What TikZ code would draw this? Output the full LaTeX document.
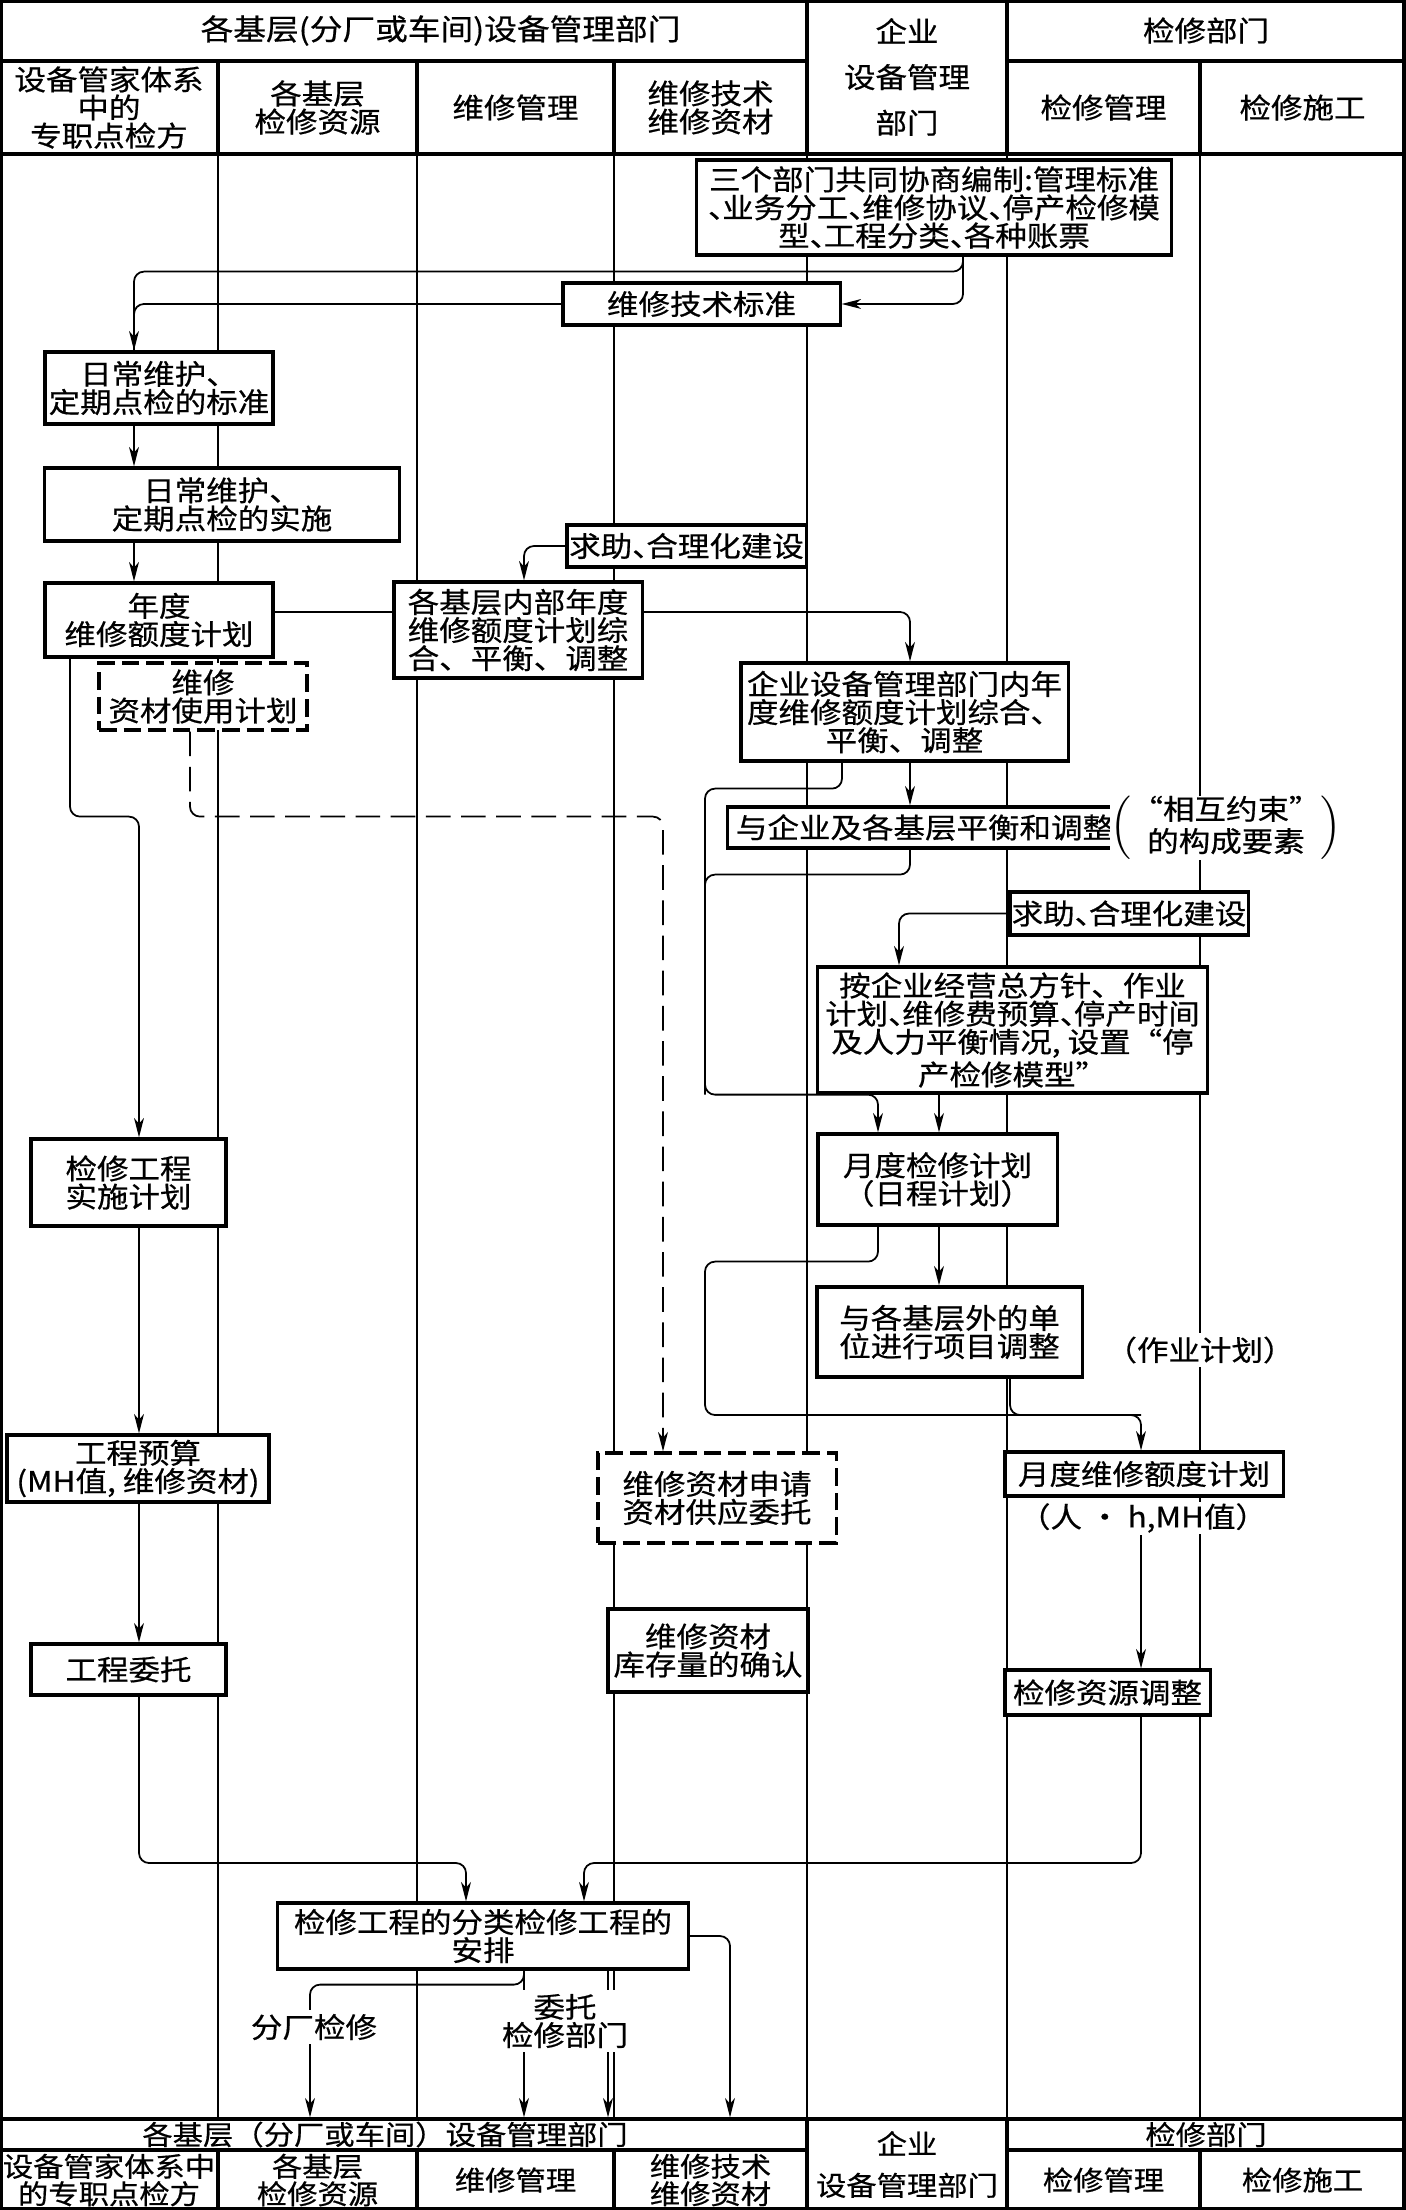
\documentclass[tikz,border=0pt]{standalone}
\usepackage{fontspec}
\setmainfont{Noto Sans CJK SC}[FakeStretch=1.12, FakeBold=0.6]
\usepackage{tikz}
\usetikzlibrary{arrows.meta}
\newcommand\dun{\makebox[.5em][l]{、}}

\begin{document}
\begin{tikzpicture}[x=0.01cm, y=-0.01cm, >={Stealth[length=5.5pt, width=2.8pt, inset=1.6pt]},
  font=\fontsize{8pt}{8pt}\selectfont,
  cell/.style={draw, line width=0.9pt, inner sep=0pt, align=center},
  footcell/.style={cell, font=\fontsize{7.7pt}{7.8pt}\selectfont},
  procbox/.style={draw, line width=0.9pt, fill=white, inner sep=0pt, align=center},
  planbox/.style={procbox, dash pattern=on 5pt off 2pt},
  lane/.style={line width=0.3pt},
  conn/.style={line width=0.5pt, rounded corners=0.1cm},
  dconn/.style={conn, dash pattern=on 7pt off 3pt},
  note/.style={fill=white, inner sep=1pt, align=center}]
  \useasboundingbox (0,0) rectangle (1405,2210);

  % swim lanes
  \foreach \x in {218,417,614,807,1007,1200}
    \draw[lane] (\x,154) -- (\x,2119);

  % header
  \node[cell, minimum width=8.07cm, minimum height=0.61cm, font=\fontsize{8.3pt}{8.3pt}\selectfont] (hdA) at (403.5,30.5) {\hspace*{.74cm}各基层(分厂或车间)设备管理部门};
  \node[cell, minimum width=2.00cm, minimum height=1.54cm] (hdB) at (907,77) {企业\\[5pt]设备管理\\[5pt]部门};
  \node[cell, minimum width=3.98cm, minimum height=0.61cm] (hdC) at (1206,30.5) {检修部门};
  \node[cell, minimum width=2.18cm, minimum height=0.93cm] (hd1) at (109,107.5) {设备管家体系\\中的\\专职点检方};
  \node[cell, minimum width=1.99cm, minimum height=0.93cm] (hd2) at (317.5,107.5) {各基层\\检修资源};
  \node[cell, minimum width=1.97cm, minimum height=0.93cm] (hd3) at (515.5,107.5) {维修管理};
  \node[cell, minimum width=1.93cm, minimum height=0.93cm] (hd4) at (710.5,107.5) {维修技术\\维修资材};
  \node[cell, minimum width=1.93cm, minimum height=0.93cm] (hd5) at (1103.5,107.5) {检修管理};
  \node[cell, minimum width=2.05cm, minimum height=0.93cm] (hd6) at (1302.5,107.5) {检修施工};

  % footer
  \node[footcell, minimum width=8.07cm, minimum height=0.31cm] (ftA) at (403.5,2134.5) {各基层（分厂或车间）设备管理部门\hspace*{.37cm}};
  \node[footcell, minimum width=2.00cm, minimum height=0.91cm] (ftB) at (907,2164.5) {企业\\[4pt]设备管理部门};
  \node[footcell, minimum width=3.98cm, minimum height=0.31cm] (ftC) at (1206,2134.5) {检修部门};
  \node[footcell, minimum width=2.18cm, minimum height=0.60cm] (ft1) at (109,2180) {设备管家体系中\\的专职点检方};
  \node[footcell, minimum width=1.99cm, minimum height=0.60cm] (ft2) at (317.5,2180) {各基层\\检修资源};
  \node[footcell, minimum width=1.97cm, minimum height=0.60cm] (ft3) at (515.5,2180) {维修管理};
  \node[footcell, minimum width=1.93cm, minimum height=0.60cm] (ft4) at (710.5,2180) {维修技术\\维修资材};
  \node[footcell, minimum width=1.93cm, minimum height=0.60cm] (ft5) at (1103.5,2180) {检修管理};
  \node[footcell, minimum width=2.05cm, minimum height=0.60cm] (ft6) at (1302.5,2180) {检修施工};

  \draw[line width=1.8pt] (0,0) rectangle (1405,2210);

  % boxes
  \node[procbox, minimum width=4.74cm, minimum height=0.95cm] (std) at (934,207.5) {三个部门共同协商编制:管理标准\\\dun 业务分工\dun 维修协议\dun 停产检修模\\型\dun 工程分类\dun 各种账票};
  \node[procbox, minimum width=2.77cm, minimum height=0.42cm] (jsbz) at (701.5,304) {维修技术标准};
  \node[procbox, minimum width=2.28cm, minimum height=0.72cm] (rcbz) at (159,388) {日常维护、\\定期点检的标准};
  \node[procbox, minimum width=3.54cm, minimum height=0.73cm] (rcss) at (222,504.5) {日常维护、\\定期点检的实施};
  \node[procbox, minimum width=2.39cm, minimum height=0.42cm] (qzA) at (686.5,546) {求助\dun 合理化建设};
  \node[procbox, minimum width=2.28cm, minimum height=0.74cm] (ndjh) at (159,620) {年度\\维修额度计划};
  \node[procbox, minimum width=2.48cm, minimum height=0.96cm] (jcnd) at (518,630) {各基层内部年度\\维修额度计划综\\合、平衡、调整};
  \node[planbox, minimum width=2.08cm, minimum height=0.67cm] (zcsy) at (203,696.5) {维修\\资材使用计划};
  \node[procbox, minimum width=3.27cm, minimum height=0.98cm] (qynd) at (904.5,712) {企业设备管理部门内年\\度维修额度计划综合、\\平衡、调整};
  \node[procbox, minimum width=3.94cm, minimum height=0.41cm] (phtz) at (925,827.5) {与企业及各基层平衡和调整};
  \node[note, inner sep=0pt] (ysys) at (1226,828) {$\left(\begin{tabular}{@{}c@{}}“相互约束”\\的构成要素\end{tabular}\right)$};
  \node[procbox, minimum width=2.38cm, minimum height=0.43cm] (qzB) at (1129,913.5) {求助\dun 合理化建设};
  \node[procbox, minimum width=3.89cm, minimum height=1.26cm] (ajh) at (1012.5,1030) {按企业经营总方针、作业\\计划\dun 维修费预算\dun 停产时间\\及人力平衡情况, 设置“停\\产检修模型”};
  \node[procbox, minimum width=2.39cm, minimum height=0.91cm] (ydjx) at (937.5,1179.5) {月度检修计划\\（日程计划）};
  \node[procbox, minimum width=2.65cm, minimum height=0.90cm] (xmtz) at (949.5,1332) {与各基层外的单\\位进行项目调整};
  \node[note] (zyjh) at (1200,1350) {（作业计划）};
  \node[procbox, minimum width=1.95cm, minimum height=0.87cm] (jxgc) at (128.5,1182.5) {检修工程\\实施计划};
  \node[procbox, minimum width=2.62cm, minimum height=0.67cm] (gcys) at (138,1468.5) {工程预算\\(MH值, 维修资材)};
  \node[procbox, minimum width=1.95cm, minimum height=0.51cm] (gcwt) at (128.5,1669.5) {工程委托};
  \node[planbox, minimum width=2.38cm, minimum height=0.90cm] (zcsq) at (717,1498) {维修资材申请\\资材供应委托};
  \node[procbox, minimum width=2.78cm, minimum height=0.44cm] (ydwx) at (1144,1474) {月度维修额度计划};
  \node[note, inner sep=0.5pt] (rhzb) at (1143,1518) {（人 · h,MH值）};
  \node[procbox, minimum width=2.00cm, minimum height=0.83cm] (kcqr) at (708,1650.5) {维修资材\\库存量的确认};
  \node[procbox, minimum width=2.05cm, minimum height=0.45cm] (zytz) at (1107.5,1692.5) {检修资源调整};
  \node[procbox, minimum width=4.10cm, minimum height=0.66cm] (fljx) at (483,1936) {检修工程的分类检修工程的\\安排};
  \coordinate (ydfork) at (1141,1415);

  % connectors
  \draw[conn,->] (std.south -| 963,0) -- ++(0,15) -| (rcbz.north -| 134,0);
  \draw[conn,->] (std.south -| 963,0) |- (jsbz.east);
  \draw[conn] (jsbz.west) -| (rcbz.north -| 134,0);
  \draw[conn,->] (rcbz.south -| 134,0) -- (rcss.north -| 134,0);
  \draw[conn,->] (rcss.south -| 134,0) -- (ndjh.north -| 134,0);
  \draw[conn,->] (qzA.west) -| (jcnd.north -| 524,0);
  \draw[conn] (ndjh.east |- 0,612) -- (jcnd.west |- 0,612);
  \draw[conn,->] (jcnd.east |- 0,612) -| (qynd.north -| 910,0);
  \draw[conn,->] (qynd.south -| 910,0) -- (phtz.north -| 910,0);
  \draw[conn,->] (qynd.south -| 842,0) -- ++(0,26) -| (ajh.south -| 705,0) -| (ydjx.north -| 878,0);
  \draw[conn] (phtz.south -| 910,0) -- ++(0,25) -| (ajh.south -| 705,0);
  \draw[conn,->] (qzB.west) -| (ajh.north -| 899,0);
  \draw[conn,->] (ajh.south -| 939,0) -- (ydjx.north -| 939,0);
  \draw[conn,->] (ydjx.south -| 939,0) -- (xmtz.north -| 939,0);
  \draw[conn,->] (ydjx.south -| 878,0) -- ++(0,35) -| (ydfork -| 705,0) -| (ydwx.north -| ydfork);
  \draw[conn] (xmtz.south -| 1010,0) |- (ydfork);
  \draw[conn,->] (rhzb.south -| ydfork) -- (zytz.north -| ydfork);
  \draw[dconn,->] (zcsy.south -| 190,0) -- ++(0,85) -| (zcsq.north -| 663,0);
  \draw[conn,->] (ndjh.south -| 70,0) -- ++(0,158) -| (jxgc.north -| 139,0);
  \draw[conn,->] (jxgc.south -| 139,0) -- (gcys.north -| 139,0);
  \draw[conn,->] (gcys.south -| 139,0) -- (gcwt.north -| 139,0);
  \draw[conn,->] (gcwt.south -| 139,0) |- (466,1863) -- (fljx.north -| 466,0);
  \draw[conn,->] (zytz.south -| ydfork) |- (584,1863) -- (fljx.north -| 584,0);
  \draw[conn,->] (fljx.south -| 524,0) -- ++(0,14) -| (ftA.north -| 310,0);
  \draw[conn,->] (fljx.south -| 524,0) -- (ftA.north -| 524,0);
  \draw[conn,->] (fljx.south -| 608,0) -- (ftA.north -| 608,0);
  \draw[conn,->] (fljx.east) -| (ftA.north -| 730,0);

  \node[note] (fcjx) at (314,2027) {分厂检修};
  \node[note] (wtjx) at (565,2021) {委托\\检修部门};
\end{tikzpicture}
\end{document}
